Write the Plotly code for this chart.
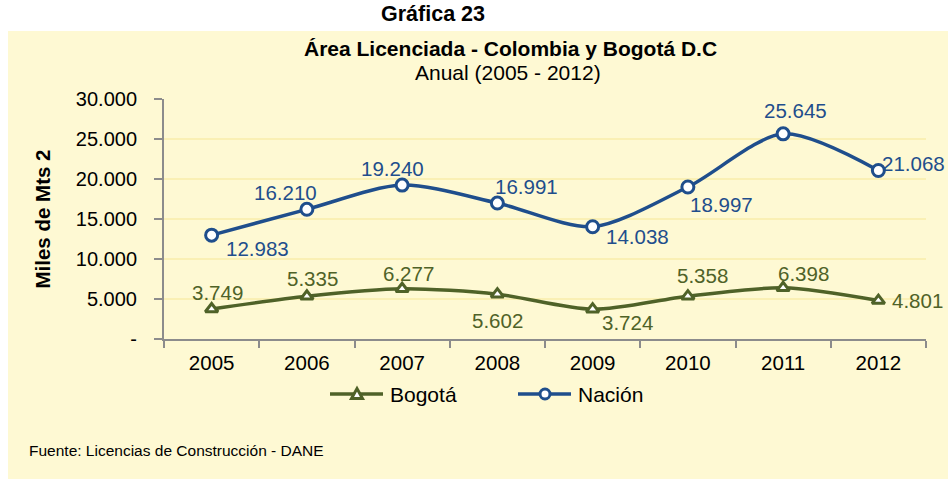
import plotly.graph_objects as go

# Annual licensed area, thousands of square metres
years = ["2005", "2006", "2007", "2008", "2009", "2010", "2011", "2012"]
bogota = [3749, 5335, 6277, 5602, 3724, 5358, 6398, 4801]
nacion = [12983, 16210, 19240, 16991, 14038, 18997, 25645, 21068]

y_ticks = [0, 5000, 10000, 15000, 20000, 25000, 30000]
y_tick_text = ["-", "5.000", "10.000", "15.000", "20.000", "25.000", "30.000"]

# value-label offsets from each marker, in pixels (dx right, dy up)
bogota_label_shift = [(6, 17), (6, 18), (6, 15), (0, -26),
                      (35, -13), (15, 21), (20, 14), (39, 0)]
nacion_label_shift = [(46, -13), (-21, 17), (-10, 17), (29, 17),
                      (45, -10), (34, -17), (12, 23), (35, 7)]


def fmt(v):
    return f"{v:,}".replace(",", ".")


GREEN = "#4F6228"
BLUE = "#1F4E8C"
FONT = "Liberation Sans, Arial, sans-serif"

fig = go.Figure()
fig.add_trace(go.Scatter(
    x=years, y=bogota, name="Bogotá", mode="lines+markers",
    line=dict(color=GREEN, width=3.5, shape="spline", smoothing=0.8),
    marker=dict(symbol="triangle-up", size=11, color="white",
                line=dict(color=GREEN, width=3)),
))
fig.add_trace(go.Scatter(
    x=years, y=nacion, name="Nación", mode="lines+markers",
    line=dict(color=BLUE, width=3.5, shape="spline", smoothing=0.8),
    marker=dict(symbol="circle", size=12, color="white",
                line=dict(color=BLUE, width=3)),
))

# value labels; x given as the category index
for series, shifts, color in ((bogota, bogota_label_shift, GREEN),
                              (nacion, nacion_label_shift, BLUE)):
    for i, (v, (dx, dy)) in enumerate(zip(series, shifts)):
        fig.add_annotation(x=i, y=v, xref="x", yref="y", text=fmt(v),
                           showarrow=False, xanchor="center", yanchor="middle",
                           xshift=dx, yshift=dy,
                           font=dict(color=color, size=20.5, family=FONT))

L, R, T, B = 164, 22, 99, 140
W, H = 948, 479
pw, ph = W - L - R, H - T - B


def px_x(px):
    return (px - L) / pw


def px_y(py):
    return (H - B - py) / ph


# pale yellow panel behind the chart
fig.add_shape(type="rect", xref="paper", yref="paper",
              x0=px_x(8), x1=px_x(948), y0=px_y(479), y1=px_y(31),
              fillcolor="#FEF9D3", line=dict(width=0), layer="below")


def label(text, x, y, size, anchor="center"):
    fig.add_annotation(text=text, xref="paper", yref="paper",
                       x=px_x(x), y=px_y(y), xanchor=anchor, yanchor="middle",
                       showarrow=False,
                       font=dict(size=size, family=FONT, color="black"))


label("<b>Gráfica 23</b>", 433, 14, 21.5)
label("<b>Área Licenciada - Colombia y Bogotá D.C</b>", 510, 48, 21)
label("Anual (2005 - 2012)", 508, 73, 21)
label("Fuente: Licencias de Construcción - DANE", 27, 450, 15.5, "left")


# legend drawn below the axis: long line sample, marker, name
def legend_entry(x0, name, color, symbol):
    ly = 394
    fig.add_shape(type="line", xref="paper", yref="paper",
                  x0=px_x(x0), x1=px_x(x0 + 53), y0=px_y(ly), y1=px_y(ly),
                  line=dict(color=color, width=3.5))
    cx = x0 + 27
    if symbol == "circle":
        fig.add_shape(type="circle", xref="paper", yref="paper",
                      x0=px_x(cx - 5), x1=px_x(cx + 5),
                      y0=px_y(ly + 5), y1=px_y(ly - 5),
                      fillcolor="white", line=dict(color=color, width=3))
    else:
        path = (f"M {px_x(cx - 5.5)},{px_y(ly + 4.5)} "
                f"L {px_x(cx + 5.5)},{px_y(ly + 4.5)} "
                f"L {px_x(cx)},{px_y(ly - 5.5)} Z")
        fig.add_shape(type="path", xref="paper", yref="paper", path=path,
                      fillcolor="white", line=dict(color=color, width=3))
    label(name, x0 + 58, ly, 21, "left")


legend_entry(330, "Bogotá", GREEN, "triangle")
legend_entry(518, "Nación", BLUE, "circle")

fig.update_layout(
    width=W, height=H,
    margin=dict(l=L, r=R, t=T, b=B, pad=0),
    paper_bgcolor="white", plot_bgcolor="rgba(0,0,0,0)",
    font=dict(family=FONT, color="black"),
    showlegend=False,
)
fig.update_xaxes(
    type="category", showline=True, linecolor="#8C8C8C", linewidth=2,
    ticks="outside", tickson="boundaries", ticklen=7, tickcolor="#8C8C8C",
    tickwidth=2, showgrid=False, tickfont=dict(size=20.5),
    ticklabelstandoff=4, range=[-0.5, 7.5],
)
fig.update_yaxes(
    range=[0, 30000], tickvals=y_ticks, ticktext=y_tick_text,
    showline=True, linecolor="#8C8C8C", linewidth=2,
    ticks="outside", ticklen=8, tickcolor="#8C8C8C", tickwidth=2,
    showgrid=True, gridcolor="#FAF0B4", gridwidth=2,
    tickfont=dict(size=20), zeroline=False, ticklabelstandoff=13,
    title=dict(text="<b>Miles de Mts 2</b>", font=dict(size=20.5), standoff=20),
)

fig.write_html("out.html")
